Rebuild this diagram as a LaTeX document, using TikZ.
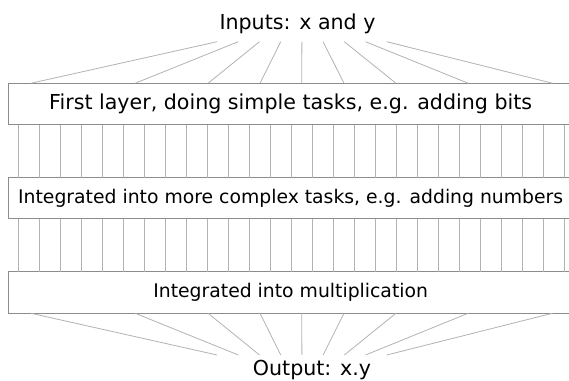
\documentclass[tikz,border=0pt]{standalone}
\usepackage{fontspec}
\setmainfont{DejaVu Sans}
\usetikzlibrary{calc}

\begin{document}
\begin{tikzpicture}[x=1pt, y=-1pt,
    layer/.style={draw=black!45, line width=0.9pt, outer sep=0pt, inner sep=0pt,
      minimum width=564.7pt, minimum height=41.4pt, anchor=north west,
      font=\fontsize{20.6}{24}\selectfont},
    small/.style={font=\fontsize{18.8}{22}\selectfont},
    wire/.style={draw=black!30, line width=0.8pt},
    io/.style={font=\fontsize{20.6}{24}\selectfont, inner sep=0pt, anchor=base}]
    \useasboundingbox (0,0) rectangle (569,380);

    \node[io] (inputs) at (297.5, 29.3) {Inputs: x and y};
    \node[layer] (first) at (8.3, 83.3) {First layer, doing simple tasks, e.g. adding bits};
    \node[layer, small] (complex) at (8.3, 177.5) {Integrated into more complex tasks, e.g. adding numbers};
    \node[layer, small] (mult) at (8.3, 271.8) {Integrated into multiplication};
    \node[io] (output) at (312, 375) {Output: x.y};

    \coordinate (infan) at (301.9, 41.7);
    \coordinate (outfan) at (301.9, 355);

    % fan in and fan out
    \foreach \i/\x in {-4/22.4, -3/126.7, -2/199.7, -1/251.7, 0/293.4, 1/335.7, 2/387.7, 3/460, 4/544.4} {
        \draw[wire] ($(infan)+(21.2*\i,0)$) -- ($(first.north west)+(\x,0)$);
        \draw[wire] ($(mult.south west)+(\x,0)$) -- ($(outfan)+(21.2*\i,0)$);
    }

    % links between the layers
    \foreach \k in {0,...,26} {
        \draw[wire] ($(first.south west)+(10+21*\k,0)$) -- ($(complex.north west)+(10+21*\k,0)$);
        \draw[wire] ($(complex.south west)+(10+21*\k,0)$) -- ($(mult.north west)+(10+21*\k,0)$);
    }
\end{tikzpicture}
\end{document}
